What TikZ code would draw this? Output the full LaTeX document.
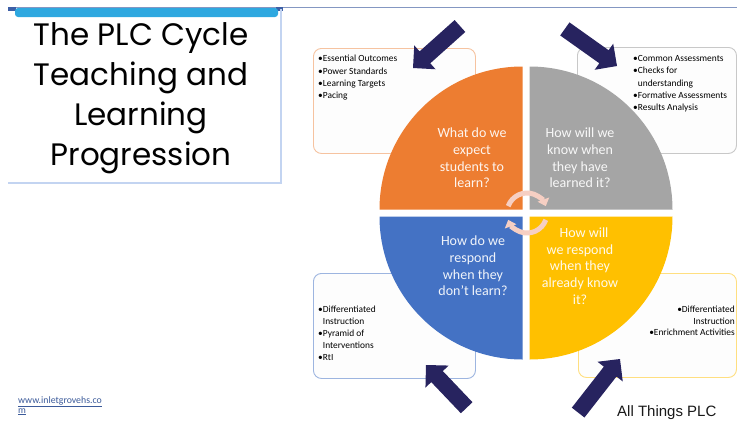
\documentclass[tikz,border=0pt]{standalone}
\usepackage{fontspec}
\setmainfont{Carlito}
\newfontfamily\titlefont{Poppins}
\newfontfamily\arialfont{Liberation Sans}
\usetikzlibrary{arrows.meta}
\definecolor{navy}{HTML}{27235F}
\definecolor{orangeq}{HTML}{ED7D31}
\definecolor{grayq}{HTML}{A5A5A5}
\definecolor{blueq}{HTML}{4472C4}
\definecolor{goldq}{HTML}{FFC000}
\definecolor{bordO}{HTML}{F6C3A0}
\definecolor{bordG}{HTML}{C8C8C8}
\definecolor{bordB}{HTML}{9DB5E0}
\definecolor{bordY}{HTML}{FFDF80}
\definecolor{boxfill}{HTML}{FDFDFD}
\definecolor{titleline}{HTML}{C3D4F1}
\definecolor{topline}{HTML}{8497C2}
\definecolor{barblue}{HTML}{2EA8E0}
\definecolor{tickblue}{HTML}{3D5FA6}
\definecolor{cycpink}{HTML}{F6CFC3}
\definecolor{linkblue}{HTML}{3B5A9A}
\begin{document}
\begin{tikzpicture}[x=1pt,y=1pt,
  boxstyle/.style={draw, rounded corners=8pt, line width=0.9pt, fill=boxfill, inner sep=0pt, anchor=north west},
  btext/.style={font=\fontsize{9.4}{12.4}\selectfont, inner sep=0pt, text=black},
  qtext/.style={font=\fontsize{14}{16.7}\selectfont, text=white, text opacity=0.92, align=center, inner sep=0pt},
  titletext/.style={font=\titlefont\fontsize{31}{40}\selectfont, anchor=base, inner sep=0pt},
  pics/blockarrow/.style={code={
    \fill[navy] (0,0) -- (-16,16) -- (-16,8) -- (-#1,8) -- (-#1,-8) -- (-16,-8) -- (-16,-16) -- cycle;}},
  cyc/.style={line width=5pt, draw=cycpink, -{Triangle[width=12pt,length=7pt]}}
]
\useasboundingbox (0,0) rectangle (737,-424);
\fill[white] (0,0) rectangle (737,-424);

% title area
\draw[topline, line width=0.9pt] (8,-7.5) -- (737,-7.5);
\fill[tickblue] (8,-7) rectangle (16,-10.5);
\fill[tickblue] (276,-7) rectangle (283,-10.5);
\draw[titleline, line width=2.5pt] (8,-183) -- (281,-183) -- (281,-9);
\fill[barblue, rounded corners=3pt] (15,-8) rectangle (278,-17);
\node[titletext] (t1) at (141,-45) {The PLC Cycle};
\node[titletext] (t2) at (141,-85) {Teaching and};
\node[titletext] (t3) at (141,-125) {Learning};
\node[titletext] (t4) at (141,-165) {Progression};

% boxes
\node[boxstyle, draw=bordO, minimum width=162pt, minimum height=105pt] (bTL) at (313,-48) {};
\node[boxstyle, draw=bordG, minimum width=159pt, minimum height=106pt] (bTR) at (577,-47) {};
\node[boxstyle, draw=bordB, minimum width=162pt, minimum height=105pt] (bBL) at (313,-273) {};
\node[boxstyle, draw=bordY, minimum width=158pt, minimum height=104pt] (bBR) at (578,-273) {};

\node[btext, align=left, anchor=north west] (xTL) at (318,-55) {•Essential Outcomes\\•Power Standards\\•Learning Targets\\•Pacing};
\node[btext, align=left, anchor=north west] (xTR) at (633,-55) {•Common Assessments\\•Checks for\\\phantom{•}understanding\\•Formative Assessments\\•Results Analysis};
\node[btext, align=left, anchor=north west, font=\fontsize{9.4}{11.4}\selectfont] (xBL) at (318,-306) {•Differentiated\\\phantom{•}Instruction\\[1.2pt]•Pyramid of\\\phantom{•}Interventions\\[1.2pt]•RtI};
\node[btext, align=right, anchor=north east, font=\fontsize{9.4}{11.6}\selectfont] (xBR) at (735,-306) {•Differentiated\\Instruction\\•Enrichment Activities};

% quadrants
\fill[orangeq] (522.5,-209.5) -- ++(-143,0) arc[start angle=180, end angle=90, radius=143] -- cycle;
\fill[grayq] (529.5,-209.5) -- ++(0,143) arc[start angle=90, end angle=0, radius=143] -- cycle;
\fill[blueq] (522.5,-216.5) -- ++(-143,0) arc[start angle=180, end angle=270, radius=143] -- cycle;
\fill[goldq] (529.5,-216.5) -- ++(143,0) arc[start angle=0, end angle=-90, radius=143] -- cycle;

\node[qtext] (qO) at (472,-158) {What do we\\expect\\students to\\learn?};
\node[qtext] (qG) at (580,-158) {How will we\\know when\\they have\\learned it?};
\node[qtext] (qB) at (473,-266) {How do we\\respond\\when they\\don't learn?};
\node[qtext] (qY) at (580,-266) {\hspace*{8pt}How will\\we respond\\when they\\already know\\it?};

% cycle arrows
\coordinate (cc) at (527,-213);
\draw[cyc] (cc) ++(160:20) arc[start angle=160, end angle=20, radius=20];
\draw[cyc] (cc) ++(-20:20) arc[start angle=-20, end angle=-160, radius=20];

% navy block arrows (tip at given point)
\pic[rotate=221.8] (aTL) at (413,-68) {blockarrow=63};
\pic[rotate=-35.4] (aTR) at (617,-66) {blockarrow=64};
\pic[rotate=133.6] (aBL) at (426,-365) {blockarrow=59};
\pic[rotate=52] (aBR) at (620,-359) {blockarrow=68};

% footer
\node[font=\fontsize{9.8}{9.5}\selectfont, text=linkblue, align=left, anchor=base west, inner sep=0pt] (web) at (18,-413) {\underline{www.inletgrovehs.co}\\\underline{m}};
\node[font=\arialfont\fontsize{15}{18}\selectfont, anchor=base west, inner sep=0pt, text=black!90] (atp) at (617,-416) {All Things PLC};
\end{tikzpicture}
\end{document}
